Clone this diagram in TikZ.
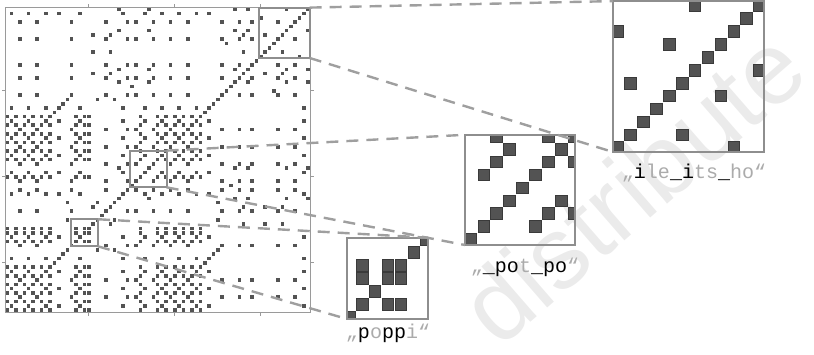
\documentclass[tikz,border=0pt]{standalone}
\usepackage{fontspec}
\setmonofont{Liberation Mono}
\setsansfont{Liberation Sans}
\usetikzlibrary{positioning}

\definecolor{framegray}{HTML}{9A9A9A}
\definecolor{boxgray}{HTML}{8E8E8E}
\definecolor{cellgray}{HTML}{535353}
\definecolor{celledge}{HTML}{3A3A3A}
\definecolor{lightletter}{HTML}{ABABAB}
\definecolor{markgray}{HTML}{EBEBEB}

% the sentence of the recurrence plot, u stands for the blank
\def\plottext{p,o,p,u,p,o,p,u,p,o,p,c,o,r,n,u,p,o,p,p,i,n,g,u,i,n,t,o,u,a,u,p,o,t,u,p,o,p,u,p,o,p,u,p,o,p,c,o,r,n,u,e,a,t,u,i,t,u,w,h,i,l,e,u,i,t,s,u,h,o,t}
\newcommand{\hl}[1]{\textcolor{lightletter}{#1}}

% magnified cells of one window: start, end, left, bottom
\newcommand{\zoomcells}[4]{%
  \begin{scope}
    \clip (#3,#4) rectangle ({#3+(#2-#1)*12.9},{#4-(#2-#1)*12.9});
    \pgfmathtruncatemacro\lo{floor(#1)}
    \pgfmathtruncatemacro\hi{floor(#2)}
    \foreach \i in {\lo,...,\hi}{
      \foreach \j in {\lo,...,\hi}{
        \edef\ca{\csname ch\i\endcsname}\edef\cb{\csname ch\j\endcsname}
        \ifx\ca\cb
          \filldraw[bigcell] ({#3+(\i+0.5-#1)*12.9-5.8},{#4-(\j+0.5-#1)*12.9-5.8}) rectangle +(11.6,11.6);
        \fi
      }}
  \end{scope}}

\begin{document}
\begin{tikzpicture}[
    x=1pt, y=-1pt,
    smallcell/.style={fill=cellgray},
    bigcell/.style={fill=cellgray, draw=celledge, line width=0.5pt},
    zoombox/.style={draw=boxgray, line width=1.8pt, inner sep=0pt, outer sep=0pt},
    insetbox/.style={draw=boxgray, line width=1.8pt, inner sep=0pt, outer sep=0pt},
    zoomline/.style={draw=boxgray!85, line width=2.4pt, dash pattern=on 12pt off 8pt},
    lbl/.style={font=\ttfamily\fontsize{20}{24}\selectfont, inner sep=0pt}
  ]
  \useasboundingbox (0,0) rectangle (814,354);

  % watermark
  \node[rotate=41, text=markgray, font=\sffamily\fontsize{102}{102}\selectfont] (mark) at (632,186) {distribute};

  % characters
  \foreach \ch [count=\k from 0] in \plottext {\expandafter\xdef\csname ch\k\endcsname{\ch}}

  % recurrence plot
  \foreach \i in {0,...,70}{
    \foreach \j in {0,...,70}{
      \edef\ca{\csname ch\i\endcsname}\edef\cb{\csname ch\j\endcsname}
      \ifx\ca\cb
        \fill[smallcell] ({5+(\i+0.5)*4.3-1.8},{312.3-(\j+0.5)*4.3-1.8}) rectangle +(3.6,3.6);
      \fi
    }}

  % frame and ticks
  \draw[framegray, line width=0.8pt] (5,7) rectangle (310.3,312.3);
  \foreach \t in {88.85,174.85,260.85}{
    \draw[framegray, line width=0.8pt] (\t,7) -- (\t,3.5);
    \draw[framegray, line width=0.8pt] (\t,312.3) -- (\t,315.8);
  }
  \foreach \t in {90.85,176.85,262.85}{
    \draw[framegray, line width=0.8pt] (5,\t) -- (1.5,\t);
    \draw[framegray, line width=0.8pt] (310.3,\t) -- (313.8,\t);
  }

  % zoomed windows in the plot
  \node[zoombox, minimum width=27.1pt, minimum height=27.1pt, anchor=south west] (boxA) at (70.96,246.34) {};
  \node[zoombox, minimum width=36.7pt, minimum height=36.7pt, anchor=south west] (boxB) at (129.96,187.34) {};
  \node[zoombox, minimum width=50.4pt, minimum height=50.4pt, anchor=south west] (boxC) at (259.3,58.0) {};

  % magnified windows
  \zoomcells{15.34}{21.64}{347}{319}
  \zoomcells{29.06}{37.6}{465}{245}
  \zoomcells{59.15}{70.85}{613}{152}
  \node[insetbox, minimum width=81.3pt, minimum height=81.3pt, anchor=south west] (insetA) at (347,319) {};
  \node[insetbox, minimum width=110.2pt, minimum height=110.2pt, anchor=south west] (insetB) at (465,245) {};
  \node[insetbox, minimum width=150.9pt, minimum height=150.9pt, anchor=south west] (insetC) at (613,152) {};

  % connectors
  \draw[zoomline] (boxA.north east) -- (insetA.north east);
  \draw[zoomline] (boxA.south east) -- (insetA.south west);
  \draw[zoomline] (boxB.north east) -- (insetB.north west);
  \draw[zoomline] (boxB.south east) -- (insetB.south west);
  \draw[zoomline] (boxC.north east) -- (insetC.north west);
  \draw[zoomline] (boxC.south east) -- (insetC.south west);

  % labels
  \node[lbl] (lblA) at (388,333) {\hl{„}p\hl{o}pp\hl{i}\hl{“}};
  \node[lbl] (lblB) at (525,267) {\hl{„}\_po\hl{t}\_po\hl{“}};
  \node[lbl] (lblC) at (694,173) {\hl{„}i\hl{le}\_i\hl{ts}\_\hl{ho}\hl{“}};
\end{tikzpicture}
\end{document}
